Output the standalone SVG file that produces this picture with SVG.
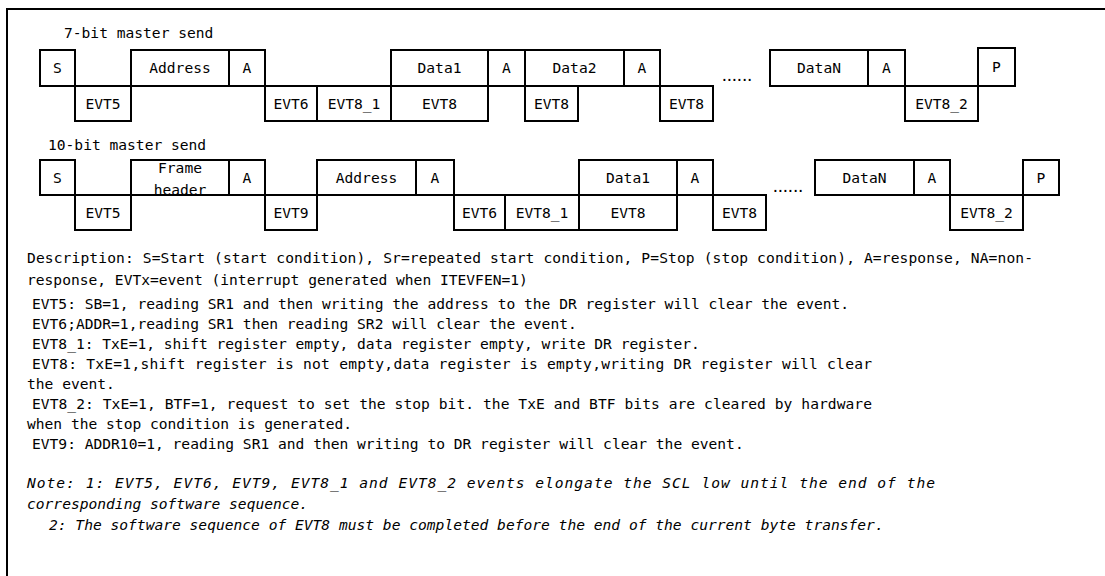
<svg xmlns="http://www.w3.org/2000/svg" width="1105" height="576" viewBox="0 0 1105 576">
<style>
  text { font-family: "DejaVu Sans Mono", "Liberation Mono", monospace; font-size: 14.6px; fill: #000; }
  .c { text-anchor: middle; }
  .it { font-style: italic; }
  .b rect { fill: #fff; stroke: #000; stroke-width: 2; }
  .dots { font-size: 14.6px; }
</style>
<rect x="0" y="0" width="1105" height="576" fill="#fff"/>
<path d="M7 580 V9 H1110" fill="none" stroke="#000" stroke-width="2"/>

<text x="64" y="38">7-bit master send</text>
<g id="row1" class="b">
  <g id="r1-s"><rect x="40" y="50" width="35" height="36"/><text class="c" x="57.5" y="73">S</text></g>
  <g id="r1-evt5"><rect x="75" y="86" width="56" height="35"/><text class="c" x="103" y="109">EVT5</text></g>
  <g id="r1-addr"><rect x="131" y="50" width="98" height="36"/><text class="c" x="180" y="73">Address</text></g>
  <g id="r1-a1"><rect x="229" y="50" width="36" height="36"/><text class="c" x="247" y="73">A</text></g>
  <g id="r1-evt6"><rect x="265" y="86" width="52" height="35"/><text class="c" x="291" y="109">EVT6</text></g>
  <g id="r1-evt81"><rect x="317" y="86" width="74" height="35"/><text class="c" x="354" y="109">EVT8_1</text></g>
  <g id="r1-data1"><rect x="391" y="50" width="97" height="36"/><text class="c" x="439.5" y="73">Data1</text></g>
  <g id="r1-evt8a"><rect x="391" y="86" width="97" height="35"/><text class="c" x="439.5" y="109">EVT8</text></g>
  <g id="r1-a2"><rect x="488" y="50" width="37" height="36"/><text class="c" x="506.5" y="73">A</text></g>
  <g id="r1-data2"><rect x="525" y="50" width="99" height="36"/><text class="c" x="574.5" y="73">Data2</text></g>
  <g id="r1-evt8b"><rect x="525" y="86" width="53" height="35"/><text class="c" x="551.5" y="109">EVT8</text></g>
  <g id="r1-a3"><rect x="624" y="50" width="36" height="36"/><text class="c" x="642" y="73">A</text></g>
  <g id="r1-evt8c"><rect x="660" y="86" width="53" height="35"/><text class="c" x="686.5" y="109">EVT8</text></g>
  <text x="720" y="81" textLength="34" lengthAdjust="spacing">......</text>
  <g id="r1-datan"><rect x="770" y="50" width="98" height="36"/><text class="c" x="819" y="73">DataN</text></g>
  <g id="r1-a4"><rect x="868" y="50" width="37" height="36"/><text class="c" x="886.5" y="73">A</text></g>
  <g id="r1-evt82"><rect x="905" y="86" width="73" height="35"/><text class="c" x="941.5" y="109">EVT8_2</text></g>
  <g id="r1-p"><rect x="978" y="48" width="37" height="38"/><text class="c" x="996.5" y="72">P</text></g>
</g>

<text x="48" y="150">10-bit master send</text>
<g id="row2" class="b">
  <g id="r2-s"><rect x="40" y="160" width="35" height="35"/><text class="c" x="57.5" y="183">S</text></g>
  <g id="r2-evt5"><rect x="75" y="195" width="56" height="35"/><text class="c" x="103" y="218">EVT5</text></g>
  <g id="r2-fh"><rect x="131" y="160" width="98" height="35"/><text class="c" x="180" y="173">Frame</text><text class="c" x="180" y="195">header</text></g>
  <g id="r2-a1"><rect x="229" y="160" width="36" height="35"/><text class="c" x="247" y="183">A</text></g>
  <g id="r2-evt9"><rect x="265" y="195" width="52" height="35"/><text class="c" x="291" y="218">EVT9</text></g>
  <g id="r2-addr"><rect x="317" y="160" width="99" height="35"/><text class="c" x="366.5" y="183">Address</text></g>
  <g id="r2-a2"><rect x="416" y="160" width="38" height="35"/><text class="c" x="435" y="183">A</text></g>
  <g id="r2-evt6"><rect x="454" y="195" width="51" height="35"/><text class="c" x="479.5" y="218">EVT6</text></g>
  <g id="r2-evt81"><rect x="505" y="195" width="74" height="35"/><text class="c" x="542" y="218">EVT8_1</text></g>
  <g id="r2-data1"><rect x="579" y="160" width="98" height="35"/><text class="c" x="628" y="183">Data1</text></g>
  <g id="r2-evt8a"><rect x="579" y="195" width="98" height="35"/><text class="c" x="628" y="218">EVT8</text></g>
  <g id="r2-a3"><rect x="677" y="160" width="36" height="35"/><text class="c" x="695" y="183">A</text></g>
  <g id="r2-evt8b"><rect x="713" y="195" width="53" height="35"/><text class="c" x="739.5" y="218">EVT8</text></g>
  <text x="771" y="192" textLength="34" lengthAdjust="spacing">......</text>
  <g id="r2-datan"><rect x="815" y="160" width="99" height="35"/><text class="c" x="864.5" y="183">DataN</text></g>
  <g id="r2-a4"><rect x="914" y="160" width="36" height="35"/><text class="c" x="932" y="183">A</text></g>
  <g id="r2-evt82"><rect x="950" y="195" width="73" height="35"/><text class="c" x="986.5" y="218">EVT8_2</text></g>
  <g id="r2-p"><rect x="1023" y="160" width="36" height="35"/><text class="c" x="1041" y="183">P</text></g>
</g>

<g id="description">
  <text x="27" y="263" textLength="1006" lengthAdjust="spacing">Description: S=Start (start condition), Sr=repeated start condition, P=Stop (stop condition), A=response, NA=non-</text>
  <text x="27" y="285">response, EVTx=event (interrupt generated when ITEVFEN=1)</text>
  <text x="32" y="309">EVT5: SB=1, reading SR1 and then writing the address to the DR register will clear the event.</text>
  <text x="32" y="329">EVT6;ADDR=1,reading SR1 then reading SR2 will clear the event.</text>
  <text x="32" y="349">EVT8_1: TxE=1, shift register empty, data register empty, write DR register.</text>
  <text x="32" y="369" textLength="840" lengthAdjust="spacing">EVT8: TxE=1,shift register is not empty,data register is empty,writing DR register will clear</text>
  <text x="27" y="389">the event.</text>
  <text x="32" y="409" textLength="840" lengthAdjust="spacing">EVT8_2: TxE=1, BTF=1, request to set the stop bit. the TxE and BTF bits are cleared by hardware</text>
  <text x="27" y="429">when the stop condition is generated.</text>
  <text x="32" y="449">EVT9: ADDR10=1, reading SR1 and then writing to DR register will clear the event.</text>
  <text class="it" x="27" y="488" textLength="908" lengthAdjust="spacing">Note: 1: EVT5, EVT6, EVT9, EVT8_1 and EVT8_2 events elongate the SCL low until the end of the</text>
  <text class="it" x="27" y="509">corresponding software sequence.</text>
  <text class="it" x="49" y="530">2: The software sequence of EVT8 must be completed before the end of the current byte transfer.</text>
</g>
</svg>
